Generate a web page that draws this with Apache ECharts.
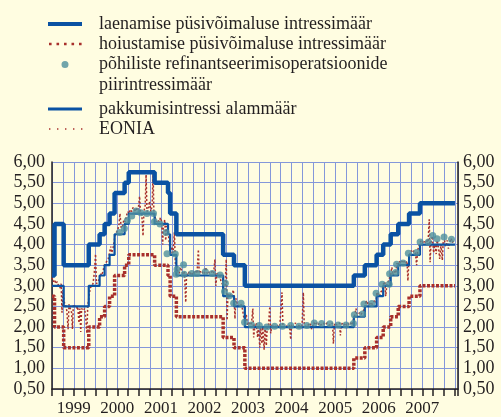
<!doctype html>
<html lang="et">
<head>
  <meta charset="utf-8">
  <title>EKP intressimäärad</title>
  <script src="https://cdn.jsdelivr.net/npm/echarts@6/dist/echarts.min.js"></script>
  <style>
    html, body { margin: 0; background: #fffde1; }
    #chart { width: 501px; height: 417px; }
  </style>
</head>
<body>
  <div id="chart"></div>
  <script type="text/javascript">
    // rate change dates (decimal years) and the rate valid from that date on
    const rateDates = [1999.0, 1999.058, 1999.268, 1999.844, 2000.093, 2000.208, 2000.322, 2000.437, 2000.667, 2000.762,
      2001.356, 2001.663, 2001.712, 2001.855, 2002.929, 2003.178, 2003.427, 2005.929, 2006.181, 2006.452,
      2006.603, 2006.775, 2006.948, 2007.197, 2007.447, 2008.25];
    const lendingRate = [3.25, 4.50, 3.50, 4.00, 4.25, 4.50, 4.75, 5.25, 5.50, 5.75,
      5.50, 5.25, 4.75, 4.25, 3.75, 3.50, 3.00, 3.25, 3.50, 3.75,
      4.00, 4.25, 4.50, 4.75, 5.00, 5.00];
    const depositRate = [2.75, 2.00, 1.50, 2.00, 2.25, 2.50, 2.75, 3.25, 3.50, 3.75,
      3.50, 3.25, 2.75, 2.25, 1.75, 1.50, 1.00, 1.25, 1.50, 1.75,
      2.00, 2.25, 2.50, 2.75, 3.00, 3.00];
    const minBidRate = [3.00, 3.00, 2.50, 3.00, 3.25, 3.50, 3.75, 4.25, 4.50, 4.75,
      4.50, 4.25, 3.75, 3.25, 2.75, 2.50, 2.00, 2.25, 2.50, 2.75,
      3.00, 3.25, 3.50, 3.75, 4.00, 4.00];

    // marginal rate of main refinancing operations
    const mroDates = [2000.55, 2000.66, 2000.73, 2000.83, 2000.93, 2001.04, 2001.18, 2001.33, 2001.35, 2001.48,
      2001.62, 2001.64, 2001.83, 2001.85, 2001.87, 2002.02, 2002.03, 2002.21, 2002.33, 2002.52,
      2002.68, 2002.86, 2002.96, 2002.98, 2003.07, 2003.17, 2003.34, 2003.42, 2003.58, 2003.76,
      2003.93, 2004.11, 2004.29, 2004.48, 2004.67, 2004.85, 2005.02, 2005.19, 2005.38, 2005.57,
      2005.75, 2005.92, 2005.94, 2006.13, 2006.16, 2006.34, 2006.44, 2006.58, 2006.74, 2006.75,
      2006.89, 2006.91, 2007.06, 2007.18, 2007.37, 2007.45, 2007.64, 2007.74, 2007.84, 2008.00, 2008.17];
    const mroMarginal = [4.29, 4.39, 4.58, 4.69, 4.81, 4.77, 4.75, 4.75, 4.55, 4.50,
      4.29, 3.78, 3.77, 3.28, 3.40, 3.51, 3.28, 3.30, 3.30, 3.34,
      3.30, 3.26, 2.86, 3.06, 2.76, 2.58, 2.58, 2.12, 2.05, 2.04,
      2.00, 2.02, 2.02, 2.04, 2.02, 2.04, 2.10, 2.09, 2.08, 2.05,
      2.05, 2.09, 2.30, 2.32, 2.56, 2.57, 2.82, 3.04, 3.04, 3.29,
      3.32, 3.52, 3.55, 3.79, 3.81, 4.06, 4.06, 4.22, 4.14, 4.18, 4.13];

    const eoniaDates = [
      1999.00, 1999.03, 1999.06, 1999.09, 1999.12, 1999.15, 1999.18, 1999.21, 1999.23, 1999.25,
      1999.28, 1999.31, 1999.34, 1999.37, 1999.39, 1999.42, 1999.45, 1999.47, 1999.49, 1999.53,
      1999.56, 1999.59, 1999.62, 1999.64, 1999.66, 1999.68, 1999.72, 1999.75, 1999.78, 1999.80,
      1999.82, 1999.85, 1999.88, 1999.91, 1999.94, 1999.97, 2000.00, 2000.02,
      2000.05, 2000.08, 2000.11, 2000.14, 2000.17, 2000.20, 2000.23, 2000.26, 2000.29, 2000.32,
      2000.35, 2000.37, 2000.40, 2000.43, 2000.45, 2000.48, 2000.51, 2000.54, 2000.56, 2000.59,
      2000.62, 2000.65, 2000.68, 2000.71, 2000.74, 2000.77, 2000.80, 2000.83, 2000.86, 2000.89,
      2000.92, 2000.95, 2000.98,
      2001.01, 2001.03, 2001.06, 2001.09, 2001.11, 2001.14, 2001.16, 2001.18, 2001.21, 2001.24,
      2001.27, 2001.30, 2001.32, 2001.34, 2001.37, 2001.40, 2001.43, 2001.46, 2001.49, 2001.52,
      2001.54, 2001.56, 2001.59, 2001.61, 2001.63, 2001.66, 2001.69, 2001.72, 2001.75, 2001.78,
      2001.81, 2001.83, 2001.86, 2001.89, 2001.92, 2001.95, 2001.98,
      2002.01, 2002.04, 2002.07, 2002.09, 2002.12, 2002.15, 2002.18, 2002.21, 2002.24, 2002.27,
      2002.30, 2002.33, 2002.36, 2002.38, 2002.41, 2002.44, 2002.47, 2002.50, 2002.53, 2002.56,
      2002.59, 2002.62, 2002.65, 2002.68, 2002.71, 2002.74, 2002.76, 2002.79, 2002.82, 2002.85,
      2002.88, 2002.91, 2002.94, 2002.97, 2003.00, 2003.02, 2003.04,
      2003.07, 2003.10, 2003.13, 2003.16, 2003.18, 2003.20, 2003.22, 2003.25, 2003.28, 2003.31,
      2003.34, 2003.37, 2003.40, 2003.43, 2003.46, 2003.49, 2003.52, 2003.55, 2003.58, 2003.61,
      2003.63, 2003.66, 2003.69, 2003.72, 2003.74, 2003.77, 2003.79, 2003.82, 2003.84, 2003.87,
      2003.89, 2003.92, 2003.94, 2003.97, 2004.00, 2004.02, 2004.05,
      2004.08, 2004.11, 2004.14, 2004.17, 2004.20, 2004.23, 2004.26, 2004.28, 2004.30, 2004.33,
      2004.36, 2004.39, 2004.42, 2004.45, 2004.48, 2004.50, 2004.53, 2004.56, 2004.59, 2004.62,
      2004.65, 2004.68, 2004.71, 2004.74, 2004.77, 2004.79, 2004.82, 2004.85, 2004.88, 2004.91,
      2004.94, 2004.96, 2004.99,
      2005.02, 2005.05, 2005.08, 2005.11, 2005.14, 2005.17, 2005.20, 2005.23, 2005.26, 2005.29,
      2005.32, 2005.35, 2005.38, 2005.41, 2005.44, 2005.46, 2005.48, 2005.51, 2005.54, 2005.57,
      2005.60, 2005.62, 2005.64, 2005.67, 2005.70, 2005.73, 2005.76, 2005.79, 2005.82, 2005.85,
      2005.88, 2005.91, 2005.94, 2005.98, 2006.00,
      2006.03, 2006.06, 2006.09, 2006.12, 2006.15, 2006.18, 2006.21, 2006.23, 2006.26, 2006.29,
      2006.32, 2006.35, 2006.38, 2006.41, 2006.44, 2006.46, 2006.49, 2006.52, 2006.55, 2006.58,
      2006.61, 2006.64, 2006.66, 2006.69, 2006.72, 2006.75, 2006.78, 2006.80, 2006.83, 2006.86,
      2006.89, 2006.92, 2006.94, 2006.97,
      2007.00, 2007.03, 2007.06, 2007.09, 2007.12, 2007.15, 2007.17, 2007.19, 2007.22, 2007.25,
      2007.28, 2007.31, 2007.34, 2007.37, 2007.39, 2007.42, 2007.45, 2007.48, 2007.51, 2007.54,
      2007.57, 2007.60, 2007.63, 2007.66, 2007.68, 2007.70, 2007.73, 2007.76, 2007.79, 2007.82,
      2007.84, 2007.87, 2007.90, 2007.93, 2007.96, 2007.98,
      2008.01, 2008.04, 2008.07, 2008.10, 2008.13, 2008.16, 2008.19, 2008.22, 2008.25];
    const eoniaValues = [
      3.20, 3.10, 3.15, 3.05, 3.10, 3.00, 2.95, 3.05, 2.35, 2.90,
      2.60, 2.55, 2.40, 1.95, 2.55, 2.55, 2.35, 1.95, 2.55, 2.50,
      2.45, 2.50, 2.10, 2.45, 1.88, 2.45, 2.40, 2.45, 2.15, 1.85,
      2.50, 2.75, 2.95, 3.00, 3.05, 3.30, 3.77, 3.05,
      3.05, 3.15, 3.30, 3.25, 3.35, 3.50, 3.55, 3.60, 3.65, 3.80,
      3.95, 3.80, 3.90, 4.10, 4.25, 4.30, 4.35, 4.50, 4.75, 4.40,
      4.45, 4.60, 4.55, 4.70, 4.80, 4.75, 4.85, 4.80, 4.90, 4.85,
      4.80, 4.90, 4.85,
      5.17, 4.80, 4.75, 4.21, 4.80, 4.95, 5.69, 4.80, 4.85, 5.05,
      4.80, 4.95, 5.77, 4.70, 4.65, 4.55, 4.60, 4.55, 4.65, 4.55,
      4.00, 4.50, 4.60, 4.10, 4.45, 4.40, 4.05, 3.75, 3.95, 3.80,
      4.30, 3.55, 3.50, 3.35, 3.30, 3.45, 3.35,
      3.30, 3.35, 2.60, 3.30, 3.25, 3.35, 3.30, 3.25, 3.35, 3.30,
      3.35, 3.30, 3.88, 3.30, 3.35, 3.30, 3.35, 3.30, 3.45, 3.30,
      3.35, 3.30, 3.30, 3.35, 3.30, 3.64, 3.00, 3.30, 3.30, 3.25,
      3.10, 3.05, 2.85, 2.90, 3.64, 2.17, 2.80,
      2.75, 2.80, 2.75, 2.90, 2.75, 2.20, 2.70, 2.55, 2.55, 2.50,
      2.55, 2.45, 2.25, 2.15, 2.30, 2.05, 2.10, 2.05, 2.10, 2.45,
      1.75, 2.05, 2.10, 1.75, 2.05, 1.50, 2.00, 1.60, 2.00, 1.45,
      2.00, 1.55, 2.00, 2.05, 2.50, 1.85, 2.05,
      2.00, 2.05, 2.00, 2.05, 2.00, 2.05, 2.05, 2.84, 2.05, 2.00,
      2.05, 2.05, 2.00, 2.05, 1.70, 2.05, 2.00, 2.05, 2.10, 2.00,
      2.05, 2.05, 2.00, 2.05, 2.84, 2.05, 2.05, 2.00, 2.05, 2.10,
      2.05, 1.95, 2.05,
      2.10, 2.05, 2.10, 2.05, 2.10, 2.05, 2.05, 2.10, 2.05, 2.05,
      2.10, 2.05, 2.05, 2.05, 2.10, 1.60, 2.05, 2.10, 2.05, 2.05,
      2.10, 1.80, 2.05, 2.10, 2.05, 2.10, 2.05, 2.10, 2.05, 2.10,
      2.05, 2.15, 2.25, 2.45, 2.25,
      2.30, 2.35, 2.30, 2.35, 2.40, 2.50, 2.65, 2.55, 2.60, 2.55,
      2.60, 2.55, 2.60, 2.65, 2.60, 2.85, 2.80, 2.75, 2.85, 2.90,
      3.05, 3.10, 2.75, 3.05, 3.10, 3.20, 3.30, 3.45, 3.25, 3.35,
      3.30, 3.55, 3.45, 3.60,
      3.55, 3.60, 3.55, 3.60, 3.55, 3.60, 3.12, 3.55, 3.80, 3.85,
      3.80, 3.85, 3.80, 3.50, 3.85, 3.95, 4.05, 4.10, 4.05, 4.10,
      4.05, 4.10, 4.00, 4.61, 3.57, 4.05, 4.20, 3.80, 4.00, 3.77,
      4.10, 3.95, 3.65, 4.00, 3.62, 4.05,
      4.10, 3.95, 4.10, 3.90, 4.05, 4.15, 4.05, 4.10, 4.10];

    const names = [
      'laenamise püsivõimaluse intressimäär',
      'hoiustamise püsivõimaluse intressimäär',
      'põhiliste refinantseerimisoperatsioonide piirintressimäär',
      'pakkumisintressi alammäär',
      'EONIA'
    ];

    const zip = (xs, ys) => xs.map((x, i) => [x, ys[i]]);
    const font = 'Liberation Serif';
    const ink = '#231f20';
    const gridColor = '#8497da';
    const blue = '#0a52a3';
    const red = '#a8302c';
    const teal = '#4d8e9c';

    // legend icons: visible mark on the left, the box is 46 px wide so the text starts at x = 99
    const icons = [
      'path://M0,0H34V4H0Z M46,0L46,4Z',
      'path://M1,0h2.6v2.6h-2.6z M8.5,0h2.6v2.6h-2.6z M16,0h2.6v2.6h-2.6z M23.5,0h2.6v2.6h-2.6z M31,0h2.6v2.6h-2.6z M0,0L0,2.6Z M46,0L46,2.6Z',
      'path://M13.5,3.5A3.5,3.5 0 1,0 20.5,3.5A3.5,3.5 0 1,0 13.5,3.5Z M0,0L0,7Z M46,0L46,7Z',
      'path://M0,0H34V3H0Z M46,0L46,3Z',
      'path://M1,0h1.4v1.4h-1.4z M9,0h1.4v1.4h-1.4z M17,0h1.4v1.4h-1.4z M25,0h1.4v1.4h-1.4z M33,0h1.4v1.4h-1.4z M0,0L0,1.4Z M46,0L46,1.4Z'
    ];
    const iconHeights = [4, 2.6, 7, 3, 1.4];
    const rowTops = [13.5, 33.5, 54, 98.5, 118.5];
    const legendText = ['laenamise püsivõimaluse intressimäär', 'hoiustamise püsivõimaluse intressimäär',
      'põhiliste refinantseerimisoperatsioonide', 'pakkumisintressi alammäär', 'EONIA'];

    const legends = names.map((name, i) => ({
      orient: 'vertical',
      left: 48,
      top: rowTops[i],
      padding: 0,
      itemWidth: 46,
      itemHeight: iconHeights[i],
      selectedMode: false,
      data: [{ name: name, icon: icons[i] }],
      formatter: () => legendText[i],
      textStyle: { fontFamily: font, fontSize: 18, color: ink, lineHeight: 21 }
    }));

    let chart = echarts.init(document.getElementById('chart'));
    let option = {
      backgroundColor: '#fffde1',
      animation: false,
      legend: legends,
      graphic: [{
        type: 'text',
        left: 99,
        top: 76,
        style: { text: 'piirintressimäär', font: '18px "Liberation Serif"', fill: ink }
      }],
      grid: { left: 52, right: 43, top: 162, bottom: 26 },
      xAxis: {
        type: 'value',
        min: 1999,
        max: 2008.32,
        interval: 0.25,
        axisLine: { lineStyle: { color: ink, width: 1.5 } },
        axisTick: { length: 7, lineStyle: { color: ink, width: 1.5 } },
        axisLabel: {
          margin: 11,
          fontFamily: font, fontSize: 17, color: ink,
          formatter: (v) => Math.abs(v - Math.floor(v) - 0.5) < 1e-6 ? String(Math.floor(v)) : ''
        },
        splitLine: { show: true, lineStyle: { color: gridColor, width: 1 } }
      },
      yAxis: [
        {
          type: 'value', position: 'left', min: 0.5, max: 6, interval: 0.5,
          axisLine: { show: true, lineStyle: { color: ink, width: 1.5 } },
          axisTick: { show: false },
          axisLabel: { margin: 7, fontFamily: font, fontSize: 18, color: ink,
            formatter: (v) => v.toFixed(2).replace('.', ',') },
          splitLine: { show: true, lineStyle: { color: gridColor, width: 1 } }
        },
        {
          type: 'value', position: 'right', min: 0.5, max: 6, interval: 0.5,
          axisLine: { show: true, lineStyle: { color: ink, width: 1.5 } },
          axisTick: { show: false },
          axisLabel: { margin: 5, fontFamily: font, fontSize: 18, color: ink,
            formatter: (v) => v.toFixed(2).replace('.', ',') },
          splitLine: { show: false }
        }
      ],
      series: [
        {
          name: names[0], type: 'line', step: 'end', symbol: 'none', z: 4,
          color: blue,
          lineStyle: { color: blue, width: 4.5 },
          data: zip(rateDates, lendingRate)
        },
        {
          name: names[1], type: 'line', step: 'end', symbol: 'none', z: 3,
          color: red,
          lineStyle: { color: red, width: 3.5, type: [3, 1.5] },
          data: zip(rateDates, depositRate)
        },
        {
          name: names[2], type: 'scatter', symbolSize: 7, z: 6,
          color: teal,
          itemStyle: { color: teal },
          data: zip(mroDates, mroMarginal)
        },
        {
          name: names[3], type: 'line', step: 'end', symbol: 'none', z: 3,
          color: blue,
          lineStyle: { color: blue, width: 2.2 },
          data: zip(rateDates, minBidRate)
        },
        {
          name: names[4], type: 'line', symbol: 'none', z: 2,
          color: red,
          lineStyle: { color: red, width: 1.5, type: [2, 2] },
          data: zip(eoniaDates, eoniaValues)
        }
      ]
    };
    chart.setOption(option);
  </script>
</body>
</html>
